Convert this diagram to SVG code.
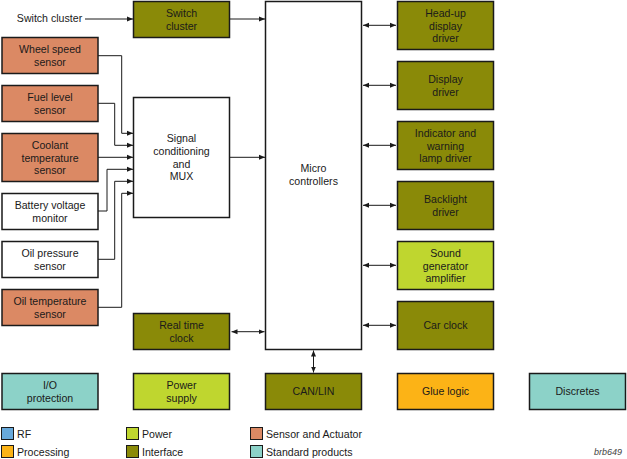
<svg xmlns="http://www.w3.org/2000/svg" width="627" height="459" viewBox="0 0 627 459">
<style>
text{font-family:"Liberation Sans",Arial,sans-serif;font-size:10.6px;fill:#1a1a1a}
.c{text-anchor:middle}
.b{stroke:#1a1a1a;stroke-width:1.5}
.w{fill:#ffffff}
.s{fill:#DB8964}
.i{fill:#8A8A08}
.p{fill:#BFD62F}
.t{fill:#8CD2C8}
.g{fill:#FCB316}
.r{fill:#67A9DB}
.l{fill:none;stroke:#1a1a1a;stroke-width:1}
.lg{stroke:#1a1a1a;stroke-width:1}
</style>
<defs>
<marker id="ae" viewBox="0 0 6 6" refX="6" refY="3" markerWidth="6" markerHeight="6" markerUnits="userSpaceOnUse" orient="auto">
<path d="M0,0.5 L6,3 L0,5.5 Z" fill="#1a1a1a"/>
</marker>
<marker id="as" viewBox="0 0 6 6" refX="0" refY="3" markerWidth="6" markerHeight="6" markerUnits="userSpaceOnUse" orient="auto">
<path d="M6,0.5 L0,3 L6,5.5 Z" fill="#1a1a1a"/>
</marker>
</defs>
<rect width="627" height="459" fill="#ffffff"/>

<g id="connectors">
<path class="l" d="M85,19 H133" marker-end="url(#ae)"/>
<path class="l" d="M230,19 H265" marker-end="url(#ae)"/>
<path class="l" d="M230,157.3 H265" marker-end="url(#ae)"/>
<path class="l" d="M98,55.7 H121.7 V133.3 H133" marker-end="url(#ae)"/>
<path class="l" d="M98,103.3 H114.7 V145.3 H133" marker-end="url(#ae)"/>
<path class="l" d="M98,157.3 H133" marker-end="url(#ae)"/>
<path class="l" d="M98,211 H107 V169.3 H133" marker-end="url(#ae)"/>
<path class="l" d="M98,259.3 H114.7 V181.3 H133" marker-end="url(#ae)"/>
<path class="l" d="M98,307.3 H121.7 V193.3 H133" marker-end="url(#ae)"/>
<path class="l" d="M363,25.3 H396" marker-start="url(#as)" marker-end="url(#ae)"/>
<path class="l" d="M363,85.3 H396" marker-start="url(#as)" marker-end="url(#ae)"/>
<path class="l" d="M363,145.3 H396" marker-start="url(#as)" marker-end="url(#ae)"/>
<path class="l" d="M363,205.3 H396" marker-start="url(#as)" marker-end="url(#ae)"/>
<path class="l" d="M363,265.3 H396" marker-start="url(#as)" marker-end="url(#ae)"/>
<path class="l" d="M363,325.3 H396" marker-start="url(#as)" marker-end="url(#ae)"/>
<path class="l" d="M231.5,331.7 H264.5" marker-start="url(#as)" marker-end="url(#ae)"/>
<path class="l" d="M313.5,350.5 V372.5" marker-start="url(#as)" marker-end="url(#ae)"/>
</g>

<g id="switch-label"><text x="49.5" y="22.3" class="c">Switch cluster</text></g>

<g id="switch-cluster"><rect class="b i" x="133.5" y="1.5" width="96" height="36"/>
<text class="c" x="181.5" y="17.3">Switch</text><text class="c" x="181.5" y="30">cluster</text></g>

<g id="wheel-speed"><rect class="b s" x="2" y="37.5" width="96" height="36"/>
<text class="c" x="50" y="53.3">Wheel speed</text><text class="c" x="50" y="66">sensor</text></g>

<g id="fuel-level"><rect class="b s" x="2" y="85.5" width="96" height="36"/>
<text class="c" x="50" y="101.3">Fuel level</text><text class="c" x="50" y="114">sensor</text></g>

<g id="coolant"><rect class="b s" x="2" y="133.5" width="96" height="48"/>
<text class="c" x="50" y="149">Coolant</text><text class="c" x="50" y="161.7">temperature</text><text class="c" x="50" y="174.4">sensor</text></g>

<g id="battery"><rect class="b w" x="2" y="193.5" width="96" height="36"/>
<text class="c" x="50" y="209.3">Battery voltage</text><text class="c" x="50" y="222">monitor</text></g>

<g id="oil-pressure"><rect class="b w" x="2" y="241.5" width="96" height="36"/>
<text class="c" x="50" y="257.3">Oil pressure</text><text class="c" x="50" y="270">sensor</text></g>

<g id="oil-temperature"><rect class="b s" x="2" y="289.5" width="96" height="36"/>
<text class="c" x="50" y="305.3">Oil temperature</text><text class="c" x="50" y="318">sensor</text></g>

<g id="signal-conditioning"><rect class="b w" x="133.5" y="97.5" width="96" height="120"/>
<text class="c" x="181.5" y="142.3">Signal</text><text class="c" x="181.5" y="155">conditioning</text><text class="c" x="181.5" y="167.5">and</text><text class="c" x="181.5" y="180">MUX</text></g>

<g id="real-time-clock"><rect class="b i" x="133.5" y="313.5" width="96" height="36"/>
<text class="c" x="181.5" y="329.3">Real time</text><text class="c" x="181.5" y="342">clock</text></g>

<g id="micro-controllers"><rect class="b w" x="265.5" y="1.5" width="96" height="348"/>
<text class="c" x="313.5" y="172.3">Micro</text><text class="c" x="313.5" y="185">controllers</text></g>

<g id="head-up"><rect class="b i" x="397.5" y="1.5" width="96" height="48"/>
<text class="c" x="445.5" y="17.3">Head-up</text><text class="c" x="445.5" y="30.2">display</text><text class="c" x="445.5" y="42.3">driver</text></g>

<g id="display-driver"><rect class="b i" x="397.5" y="61.5" width="96" height="48"/>
<text class="c" x="445.5" y="83.3">Display</text><text class="c" x="445.5" y="96">driver</text></g>

<g id="indicator"><rect class="b i" x="397.5" y="121.5" width="96" height="48"/>
<text class="c" x="445.5" y="137.3">Indicator and</text><text class="c" x="445.5" y="150.2">warning</text><text class="c" x="445.5" y="162.3">lamp driver</text></g>

<g id="backlight"><rect class="b i" x="397.5" y="181.5" width="96" height="48"/>
<text class="c" x="445.5" y="203.3">Backlight</text><text class="c" x="445.5" y="216">driver</text></g>

<g id="sound"><rect class="b p" x="397.5" y="241.5" width="96" height="48"/>
<text class="c" x="445.5" y="257.3">Sound</text><text class="c" x="445.5" y="270.2">generator</text><text class="c" x="445.5" y="282.3">amplifier</text></g>

<g id="car-clock"><rect class="b i" x="397.5" y="301.5" width="96" height="48"/>
<text class="c" x="445.5" y="329.3">Car clock</text></g>

<g id="io-protection"><rect class="b t" x="2" y="373.5" width="96" height="36"/>
<text class="c" x="50" y="389.3">I/O</text><text class="c" x="50" y="402">protection</text></g>

<g id="power-supply"><rect class="b p" x="133.5" y="373.5" width="96" height="36"/>
<text class="c" x="181.5" y="389.3">Power</text><text class="c" x="181.5" y="402">supply</text></g>

<g id="can-lin"><rect class="b i" x="265.5" y="373.5" width="96" height="36"/>
<text class="c" x="313.5" y="395.3">CAN/LIN</text></g>

<g id="glue-logic"><rect class="b g" x="397.5" y="373.5" width="96" height="36"/>
<text class="c" x="445.5" y="395.3">Glue logic</text></g>

<g id="discretes"><rect class="b t" x="529.5" y="373.5" width="96" height="36"/>
<text class="c" x="577.5" y="395.3">Discretes</text></g>

<g id="legend">
<rect class="lg r" x="1.5" y="427.5" width="12" height="12"/><text x="17" y="437.5">RF</text>
<rect class="lg g" x="1.5" y="445.5" width="12" height="12"/><text x="17" y="455.5">Processing</text>
<rect class="lg p" x="126.5" y="427.5" width="12" height="12"/><text x="142" y="437.5">Power</text>
<rect class="lg i" x="126.5" y="445.5" width="12" height="12"/><text x="142" y="455.5">Interface</text>
<rect class="lg s" x="250.5" y="427.5" width="12" height="12"/><text x="266" y="437.5">Sensor and Actuator</text>
<rect class="lg t" x="250.5" y="445.5" width="12" height="12"/><text x="266" y="455.5">Standard products</text>
</g>

<text x="608" y="455" style="font-size:9px;font-style:italic;fill:#444" text-anchor="middle">brb649</text>
</svg>
